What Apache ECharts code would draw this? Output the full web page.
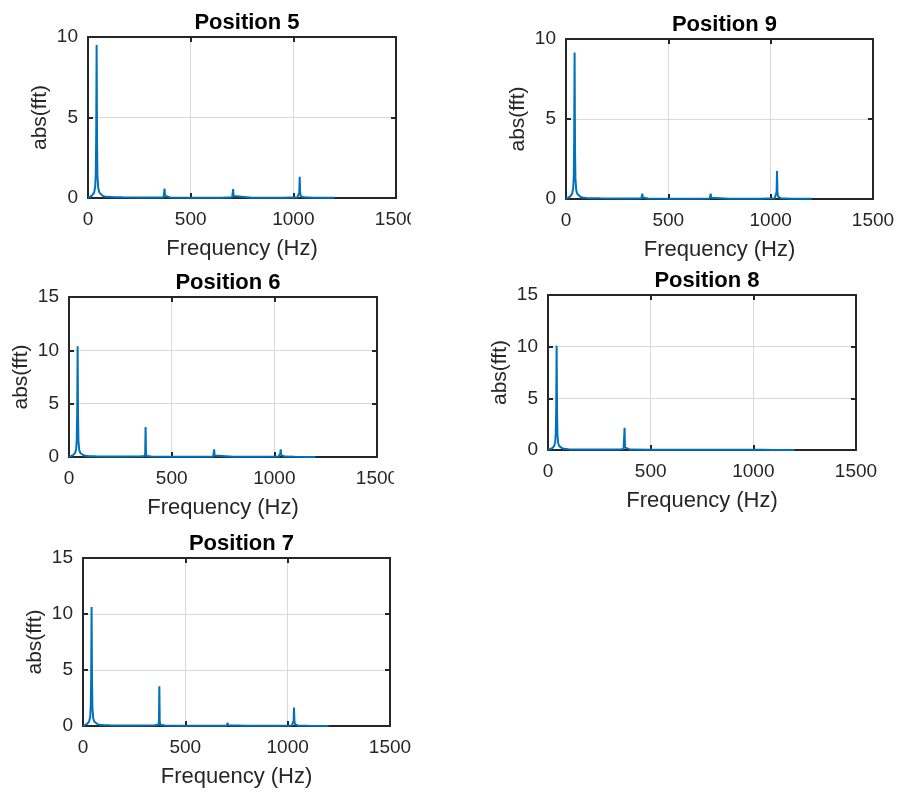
<!DOCTYPE html>
<html><head><meta charset="utf-8">
<script src="https://cdn.jsdelivr.net/npm/echarts@6/dist/echarts.min.js"></script>
<style>html,body{margin:0;padding:0;background:#fff}#c{width:899px;height:794px}</style>
</head><body><div id="c"></div>
<script>
// Shared frequency samples (Hz)
const freqHz = [0,10,20,30,35,38,40,42,44,46,50,55,60,70,80,100,130,170,250,350,368,371,373,375,378,400,500,650,702,705,707,709,712,800,950,1020,1026,1029,1031,1033,1036,1050,1100,1200];
// abs(fft) per position
const ampPos5 = [0.03,0.08,0.15,0.35,0.7,1.5,4.0,9.5,3.5,1.4,0.6,0.35,0.25,0.15,0.1,0.07,0.05,0.04,0.03,0.03,0.05,0.15,0.58,0.15,0.05,0.03,0.02,0.02,0.04,0.12,0.55,0.12,0.04,0.02,0.02,0.04,0.12,0.35,1.32,0.35,0.12,0.04,0.02,0.01];
const ampPos9 = [0.03,0.08,0.15,0.33,0.65,1.4,3.8,9.15,3.3,1.3,0.55,0.33,0.23,0.14,0.1,0.07,0.05,0.04,0.03,0.03,0.04,0.1,0.33,0.1,0.04,0.03,0.02,0.02,0.03,0.08,0.33,0.08,0.03,0.02,0.02,0.05,0.15,0.45,1.75,0.45,0.15,0.05,0.02,0.01];
const ampPos6 = [0.04,0.09,0.17,0.38,0.78,1.7,4.3,10.38,3.9,1.5,0.65,0.38,0.27,0.17,0.12,0.08,0.06,0.05,0.05,0.06,0.1,0.3,2.8,0.3,0.1,0.05,0.03,0.03,0.04,0.15,0.72,0.15,0.04,0.03,0.03,0.04,0.15,0.3,0.72,0.2,0.08,0.04,0.02,0.01];
const ampPos8 = [0.04,0.09,0.17,0.38,0.76,1.65,4.2,10.1,3.8,1.5,0.63,0.37,0.26,0.16,0.11,0.08,0.06,0.05,0.05,0.06,0.1,0.25,2.16,0.25,0.08,0.04,0.03,0.02,0.02,0.02,0.02,0.02,0.02,0.02,0.02,0.02,0.02,0.02,0.02,0.02,0.02,0.02,0.01,0.01];
const ampPos7 = [0.04,0.1,0.18,0.4,0.8,1.75,4.4,10.63,4.0,1.6,0.68,0.4,0.28,0.17,0.12,0.08,0.06,0.05,0.05,0.07,0.12,0.4,3.54,0.4,0.12,0.05,0.03,0.03,0.03,0.06,0.27,0.06,0.03,0.03,0.03,0.05,0.15,0.45,1.64,0.45,0.15,0.05,0.02,0.01];
const titles = ['Position 5','Position 9','Position 6','Position 8','Position 7'];
const yMaxes = [10,10,15,15,15];
const xTickLabels = [0,500,1000,1500];
const xName = 'Frequency (Hz)';
const yName = 'abs(fft)';

const amps = [ampPos5, ampPos9, ampPos6, ampPos8, ampPos7];
// layout boxes [left, top, width, height]
const boxes = [[88,37,308,161],[566,39,307,160],[69,297,308,160],[548,295,308,155],[83,558,307,168]];

const FONT = "'Liberation Sans', Arial, Helvetica, sans-serif";
const AX = '#262626';
const grids=[], xAxes=[], yAxes=[], series=[], title=[];
const frameAxis = (extra)=>Object.assign({
  axisLine:{show:true,onZero:false,lineStyle:{color:AX,width:2}},
  axisTick:{show:true,inside:true,length:5,lineStyle:{color:AX,width:2}}
}, extra);
boxes.forEach((b,i)=>{
  grids.push({left:b[0], top:b[1], width:b[2], height:b[3], containLabel:false});
  title.push({text:titles[i], left:b[0]+b[2]/2, top:b[1]-30, textAlign:'center',
    textStyle:{fontFamily:FONT,fontSize:22,fontWeight:'bold',color:'#000'}});
  xAxes.push(frameAxis({type:'value', gridIndex:i, min:0, max:1500, interval:500, position:'bottom',
    name:xName, nameLocation:'middle', nameGap:40,
    nameTextStyle:{fontFamily:FONT,fontSize:22,color:AX},
    axisLabel:{show:true,margin:12,fontFamily:FONT,fontSize:19,color:AX,
      formatter:v=>xTickLabels.includes(v)?String(v):''},
    splitLine:{show:true,lineStyle:{color:'#dadada',width:1}}}));
  xAxes.push(frameAxis({type:'value', gridIndex:i, min:0, max:1500, interval:500, position:'top',
    axisLabel:{show:false}, splitLine:{show:false}}));
  yAxes.push(frameAxis({type:'value', gridIndex:i, min:0, max:yMaxes[i], interval:5, position:'left',
    name:yName, nameLocation:'middle', nameGap:37, nameRotate:90,
    nameTextStyle:{fontFamily:FONT,fontSize:21,color:AX},
    axisLabel:{show:true,margin:10,fontFamily:FONT,fontSize:19,color:AX},
    splitLine:{show:true,lineStyle:{color:'#dadada',width:1}}}));
  yAxes.push(frameAxis({type:'value', gridIndex:i, min:0, max:yMaxes[i], interval:5, position:'right',
    axisLabel:{show:false}, splitLine:{show:false}}));
  series.push({type:'line', xAxisIndex:2*i, yAxisIndex:2*i, showSymbol:false, clip:true,
    lineStyle:{color:'#0072BD',width:2}, itemStyle:{color:'#0072BD'},
    data:freqHz.map((f,k)=>[f, amps[i][k]]), z:3});
});

const chart = echarts.init(document.getElementById('c'), null, {renderer:'canvas'});
chart.setOption({
  animation:false, backgroundColor:'#fff',
  title, grid:grids, xAxis:xAxes, yAxis:yAxes, series,
  graphic:[
    {type:'rect', shape:{x:411,y:205,width:40,height:30}, style:{fill:'#fff'}, z:100},
    {type:'rect', shape:{x:394,y:465,width:40,height:30}, style:{fill:'#fff'}, z:100}
  ]
});
</script></body></html>
